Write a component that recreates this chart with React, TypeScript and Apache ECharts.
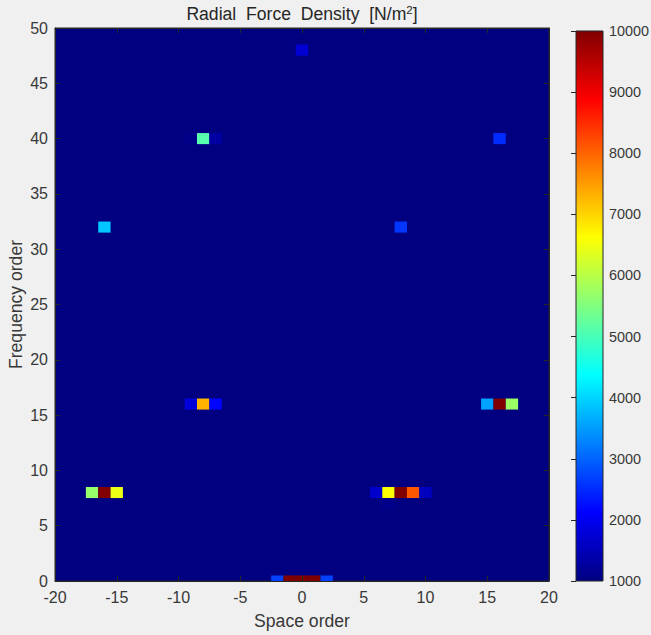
import React, { useEffect, useRef } from "react";
import * as echarts from "echarts";

// Space order (x), frequency order (y) and density value of each non-background cell
const cellX = [-2, -1, 0, 1, 2, -17, -16, -15, 6, 7, 8, 9, 10, 7, -9, -8, -7, 15, 16, 17, -16, 8, -9, -8, -7, 16, 0];
const cellY = [0, 0, 0, 0, 0, 8, 8, 8, 8, 8, 8, 8, 8, 7, 16, 16, 16, 16, 16, 16, 32, 32, 40, 40, 40, 40, 48];
const cellValue = [2700, 10000, 10000, 10000, 2700, 5700, 10000, 6450, 1680, 6600, 10000, 8100, 1560, 1100, 1800, 7300, 2150, 3550, 10000, 5750, 3880, 2600, 1080, 5120, 1300, 2500, 1750];

const xTicks = { min: -20, max: 20, interval: 5 };
const yTicks = { min: 0, max: 50, interval: 5 };
const colorTicks = { min: 1000, max: 10000, interval: 1000 };

// jet colormap sampled at eighths
const jetColors = ["#000080", "#0000ff", "#0080ff", "#00ffff", "#80ff80", "#ffff00", "#ff8000", "#ff0000", "#800000"];

const FONT = "'Liberation Sans', Arial, Helvetica, sans-serif";
const AXIS_COLOR = "#262626";
const LABEL_COLOR = "#383838";

export default function App() {
  const ref = useRef<HTMLDivElement>(null);

  useEffect(() => {
    document.body.style.margin = "0";
    if (!ref.current) return;
    const chart = echarts.init(ref.current, null, { renderer: "svg" });

    const data = cellX.map((x, i) => [x, cellY[i], cellValue[i]]);

    const axisCommon = {
      type: "value" as const,
      splitLine: { show: false },
      axisLine: { show: true, onZero: false, lineStyle: { color: AXIS_COLOR, width: 1 } },
      axisTick: { show: true, inside: true, length: 5, lineStyle: { color: AXIS_COLOR } },
      axisLabel: {
        color: LABEL_COLOR,
        fontSize: 16,
        fontFamily: FONT,
        formatter: (v: number) => String(v),
      },
      nameMoveOverlap: false,
      z: 10,
    };

    const option: any = {
      animation: false,
      backgroundColor: "#f0f0f0",
      textStyle: { fontFamily: FONT },
      grid: [
        {
          left: 55,
          top: 28,
          width: 494,
          height: 553,
          outerBoundsMode: "none",
          containLabel: false,
          show: true,
          backgroundColor: jetColors[0],
          borderColor: AXIS_COLOR,
          borderWidth: 1,
        },
        {
          left: 576,
          top: 31,
          width: 27,
          height: 550,
          outerBoundsMode: "none",
          containLabel: false,
          show: true,
          borderColor: AXIS_COLOR,
          borderWidth: 1,
          backgroundColor: {
            type: "linear",
            x: 0,
            y: 1,
            x2: 0,
            y2: 0,
            colorStops: jetColors.map((c, i) => ({ offset: i / (jetColors.length - 1), color: c })),
          },
        },
      ],
      xAxis: [
        {
          ...axisCommon,
          gridIndex: 0,
          position: "bottom",
          min: xTicks.min,
          max: xTicks.max,
          interval: xTicks.interval,
          axisLabel: { ...axisCommon.axisLabel, margin: 8 },
          name: "Space order",
          nameLocation: "middle",
          nameGap: 31,
          nameTextStyle: { color: LABEL_COLOR, fontSize: 17.6, fontFamily: FONT },
        },
        {
          ...axisCommon,
          gridIndex: 0,
          position: "top",
          min: xTicks.min,
          max: xTicks.max,
          interval: xTicks.interval,
          axisLabel: { show: false },
        },
        {
          type: "value",
          gridIndex: 1,
          min: 0,
          max: 1,
          show: false,
        },
      ],
      yAxis: [
        {
          ...axisCommon,
          gridIndex: 0,
          position: "left",
          min: yTicks.min,
          max: yTicks.max,
          interval: yTicks.interval,
          axisLabel: { ...axisCommon.axisLabel, margin: 7 },
          name: "Frequency order",
          nameLocation: "middle",
          nameGap: 30,
          nameTextStyle: { color: LABEL_COLOR, fontSize: 17.6, fontFamily: FONT },
        },
        {
          ...axisCommon,
          gridIndex: 0,
          position: "right",
          min: yTicks.min,
          max: yTicks.max,
          interval: yTicks.interval,
          axisLabel: { show: false },
        },
        {
          ...axisCommon,
          gridIndex: 1,
          position: "right",
          min: colorTicks.min,
          max: colorTicks.max,
          interval: colorTicks.interval,
          axisLine: { show: false },
          axisLabel: { ...axisCommon.axisLabel, fontSize: 14.4, margin: 6 },
        },
      ],
      visualMap: {
        type: "continuous",
        show: false,
        seriesIndex: 0,
        dimension: 2,
        min: colorTicks.min,
        max: colorTicks.max,
        inRange: { color: jetColors },
      },
      graphic: [
        {
          type: "text",
          x: 302,
          y: 14,
          style: {
            text: "Radial  Force  Density  [N/m{sup|2}]",
            fontSize: 17.6,
            fontFamily: FONT,
            fill: "#262626",
            align: "center",
            verticalAlign: "middle",
            rich: {
              sup: { fontSize: 11.5, fontFamily: FONT, fill: "#262626", padding: [0, 0, 9, 0] },
            },
          },
        },
      ],
      series: [
        {
          type: "custom",
          xAxisIndex: 0,
          yAxisIndex: 0,
          data,
          encode: { x: 0, y: 1 },
          z: 2,
          renderItem: (params: any, api: any) => {
            const x = api.value(0);
            const y = api.value(1);
            const p1 = api.coord([x - 0.5, y + 0.5]);
            const p2 = api.coord([x + 0.5, y - 0.5]);
            const rect = echarts.graphic.clipRectByRect(
              { x: p1[0], y: p1[1], width: p2[0] - p1[0], height: p2[1] - p1[1] },
              {
                x: params.coordSys.x,
                y: params.coordSys.y,
                width: params.coordSys.width,
                height: params.coordSys.height,
              }
            );
            if (!rect) return null;
            return {
              type: "rect",
              shape: rect,
              style: { fill: api.visual("color") },
            };
          },
        },
      ],
    };

    chart.setOption(option);
    return () => chart.dispose();
  }, []);

  return <div ref={ref} style={{ width: 651, height: 635, background: "#f0f0f0" }} />;
}
